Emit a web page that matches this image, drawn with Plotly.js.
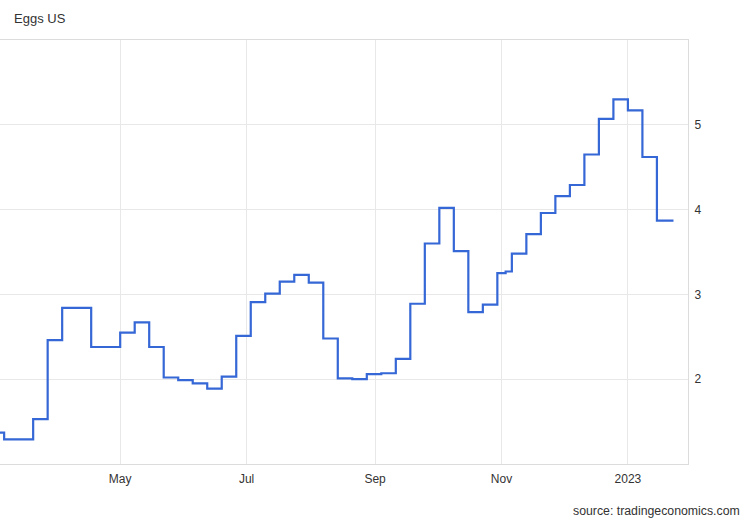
<!DOCTYPE html>
<html>
<head>
<meta charset="utf-8">
<script src="https://cdn.plot.ly/plotly-3.0.1.min.js"></script>
<style>
html,body{margin:0;padding:0;background:#fff;}
#chart{width:750px;height:520px;}
</style>
</head>
<body>
<div id="chart"></div>
<script>
// Weekly step-change dates and price levels (USD per dozen)
const dates = [
  '2022-02-27','2022-03-06','2022-03-20','2022-03-27','2022-04-03','2022-04-17',
  '2022-05-01','2022-05-08','2022-05-15','2022-05-22','2022-05-29','2022-06-05',
  '2022-06-12','2022-06-19','2022-06-26','2022-07-03','2022-07-10','2022-07-17',
  '2022-07-24','2022-07-31','2022-08-07','2022-08-14','2022-08-21','2022-08-28',
  '2022-09-04','2022-09-11','2022-09-18','2022-09-25','2022-10-02','2022-10-09',
  '2022-10-16','2022-10-23','2022-10-30','2022-11-03','2022-11-06','2022-11-13',
  '2022-11-20','2022-11-27','2022-12-04','2022-12-11','2022-12-18','2022-12-25',
  '2023-01-01','2023-01-08','2023-01-15','2023-01-23'
];
const prices = [
  1.37, 1.29, 1.53, 2.46, 2.84, 2.38,
  2.55, 2.67, 2.38, 2.02, 1.99, 1.95,
  1.89, 2.03, 2.51, 2.91, 3.01, 3.15,
  3.23, 3.14, 2.48, 2.01, 2.00, 2.06,
  2.07, 2.24, 2.89, 3.60, 4.02, 3.51,
  2.79, 2.88, 3.25, 3.27, 3.48, 3.71,
  3.96, 4.16, 4.29, 4.65, 5.07, 5.30,
  5.17, 4.62, 3.87, 3.87
];
const xTickVals = ['2022-05-01','2022-07-01','2022-09-01','2022-11-01','2023-01-01'];
const xTickText = ['May','Jul','Sep','Nov','2023'];
const yTickVals = [1, 2, 3, 4, 5, 6];
const yTickText = ['', '2', '3', '4', '5', ''];

const trace = {
  x: dates,
  y: prices,
  type: 'scatter',
  mode: 'lines',
  line: {shape: 'hv', color: '#3567d6', width: 2.2},
  hoverinfo: 'x+y'
};

const layout = {
  width: 750,
  height: 520,
  margin: {l: 0, r: 62, t: 40, b: 56},
  paper_bgcolor: '#ffffff',
  plot_bgcolor: '#ffffff',
  showlegend: false,
  font: {family: 'Arial, "Liberation Sans", sans-serif', size: 12, color: '#333'},
  xaxis: {
    type: 'date',
    range: ['2022-03-04', '2023-01-30'],
    tickvals: xTickVals,
    ticktext: xTickText,
    showgrid: true,
    gridcolor: '#e8e8e8',
    gridwidth: 1,
    showline: true,
    linecolor: '#dcdcdc',
    linewidth: 1,
    mirror: true,
    ticks: '',
    ticklabelstandoff: 4,
    zeroline: false,
    tickfont: {size: 12, color: '#333'}
  },
  yaxis: {
    side: 'right',
    range: [1, 6],
    tickvals: yTickVals,
    ticktext: yTickText,
    showgrid: true,
    gridcolor: '#e8e8e8',
    gridwidth: 1,
    showline: true,
    linecolor: '#dcdcdc',
    linewidth: 1,
    ticks: '',
    ticklabelstandoff: 3,
    zeroline: false,
    tickfont: {size: 12, color: '#333'}
  },
  annotations: [
    {
      text: 'Eggs US', xref: 'paper', yref: 'paper', x: 0, y: 1,
      xanchor: 'left', yanchor: 'bottom', xshift: 12, yshift: 12,
      showarrow: false, font: {size: 13, color: '#333'}
    },
    {
      text: 'source: tradingeconomics.com', xref: 'paper', yref: 'paper', x: 1, y: 0,
      xanchor: 'right', yanchor: 'middle', xshift: 54, yshift: -47,
      showarrow: false, font: {size: 12.3, color: '#333'}
    }
  ]
};

Plotly.newPlot('chart', [trace], layout, {displayModeBar: false, staticPlot: true});
</script>
</body>
</html>
